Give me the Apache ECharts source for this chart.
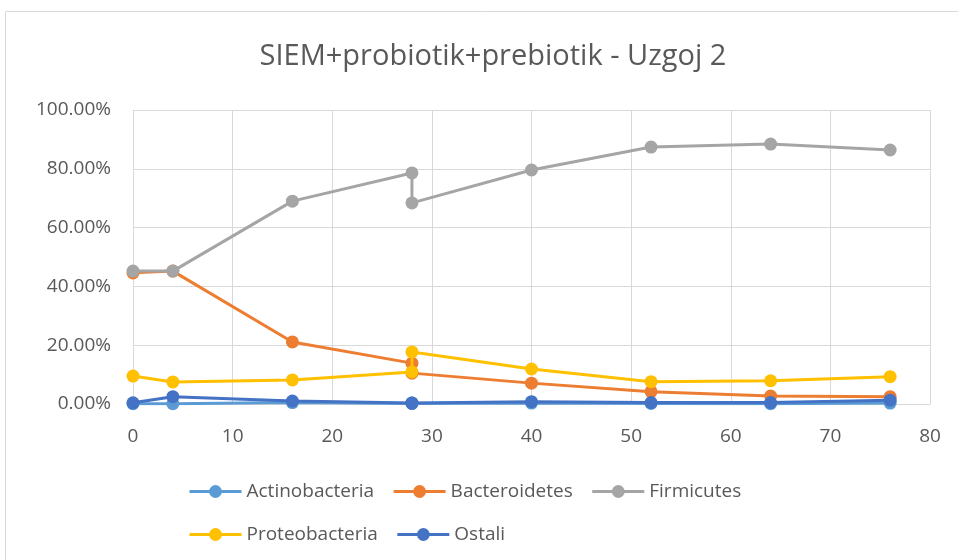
<!DOCTYPE html>
<html>
<head>
<meta charset="utf-8">
<style>
    html, body { margin: 0; padding: 0; background: #fff; }
    #chart { width: 958px; height: 560px; }
</style>
</head>
<body>
<div id="chart"></div>
<script src="https://cdn.jsdelivr.net/npm/echarts@6/dist/echarts.min.js"></script>
<script type="text/javascript">
    // time points (the 28 point is measured twice)
    var days = [0, 4, 16, 28, 28, 40, 52, 64, 76];

    var actinobacteria = [0.1, 0.1, 0.5, 0.2, 0.2, 0.3, 0.2, 0.1, 0.3];
    var bacteroidetes  = [44.6, 45.2, 21.1, 13.9, 10.5, 7.1, 4.2, 2.7, 2.5];
    var firmicutes     = [45.2, 45.2, 69.0, 78.6, 68.4, 79.6, 87.4, 88.4, 86.4];
    var proteobacteria = [9.5, 7.5, 8.2, 10.9, 17.7, 11.9, 7.6, 7.9, 9.3];
    var ostali         = [0.4, 2.5, 1.0, 0.3, 0.3, 0.8, 0.5, 0.5, 1.3];

    var names  = ['Actinobacteria', 'Bacteroidetes', 'Firmicutes', 'Proteobacteria', 'Ostali'];
    var colors = ['#5B9BD5', '#ED7D31', '#A5A5A5', '#FFC000', '#4472C4'];
    var values = [actinobacteria, bacteroidetes, firmicutes, proteobacteria, ostali];

    var font = 'Open Sans';
    var grey = '#595959';

    function pairs(ys) {
        return days.map(function (d, i) { return [d, ys[i]]; });
    }

    function legendRow(top, data) {
        return {
            left: 183,
            top: top,
            itemWidth: 52,
            itemHeight: 16,
            itemGap: 18,
            data: data,
            lineStyle: { width: 3 },
            textStyle: { fontFamily: font, fontSize: 19, color: grey }
        };
    }

    var chart = echarts.init(document.getElementById('chart'));

    var series = names.map(function (n, i) {
        return {
            name: n,
            type: 'line',
            data: pairs(values[i]),
            symbol: 'circle',
            symbolSize: 13,
            showAllSymbol: true,
            color: colors[i],
            lineStyle: { width: 3, color: colors[i] },
            itemStyle: { color: colors[i] },
            z: 2 + i
        };
    });

    var option = {
        animation: false,
        title: {
            text: 'SIEM+probiotik+prebiotik - Uzgoj 2',
            left: 488,
            textAlign: 'center',
            top: 37,
            textStyle: { fontFamily: font, fontSize: 29, fontWeight: 'normal', color: grey }
        },
        graphic: [{
            type: 'rect',
            shape: { x: 5.5, y: 11.5, width: 960, height: 560 },
            style: { fill: 'none', stroke: '#d9d9d9', lineWidth: 1 },
            silent: true
        }],
        legend: [
            legendRow(477, names.slice(0, 3)),
            legendRow(520, names.slice(3))
        ],
        grid: { left: 133, right: 28, top: 110, bottom: 156 },
        xAxis: {
            type: 'value',
            min: 0,
            max: 80,
            interval: 10,
            axisLine: { show: true, lineStyle: { color: '#d9d9d9', width: 1 } },
            axisTick: { show: false },
            splitLine: { show: true, lineStyle: { color: '#d9d9d9', width: 1 } },
            axisLabel: { fontFamily: font, fontSize: 19, color: grey, margin: 23 }
        },
        yAxis: {
            type: 'value',
            min: 0,
            max: 100,
            interval: 20,
            axisLine: { show: true, lineStyle: { color: '#d9d9d9', width: 1 } },
            axisTick: { show: false },
            splitLine: { show: true, lineStyle: { color: '#d9d9d9', width: 1 } },
            axisLabel: {
                fontFamily: font, fontSize: 19, color: grey, margin: 22,
                formatter: function (v) { return v.toFixed(2) + '%'; }
            }
        },
        series: series
    };

    chart.setOption(option);
</script>
</body>
</html>
